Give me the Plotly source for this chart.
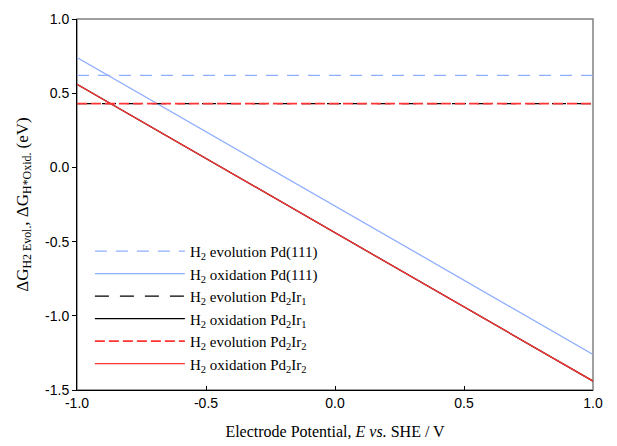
import plotly.graph_objects as go

potential = [-1.0, 1.0]
evol_pd111 = [0.62, 0.62]
oxid_pd111 = [0.74, -1.26]
evol_pd2ir1 = [0.43, 0.43]
oxid_pd2ir1 = [0.56, -1.44]
evol_pd2ir2 = [0.43, 0.43]
oxid_pd2ir2 = [0.56, -1.44]

x_ticks = [-1.0, -0.5, 0.0, 0.5, 1.0]
x_tick_labels = ["-1.0", "-0.5", "0.0", "0.5", "1.0"]
y_ticks = [-1.5, -1.0, -0.5, 0.0, 0.5, 1.0]
y_tick_labels = ["-1.5", "-1.0", "-0.5", "0.0", "0.5", "1.0"]

names = [
    "H<sub>2</sub> evolution Pd(111)",
    "H<sub>2</sub> oxidation Pd(111)",
    "H<sub>2</sub> evolution Pd<sub>2</sub>Ir<sub>1</sub>",
    "H<sub>2</sub> oxidation Pd<sub>2</sub>Ir<sub>1</sub>",
    "H<sub>2</sub> evolution Pd<sub>2</sub>Ir<sub>2</sub>",
    "H<sub>2</sub> oxidation Pd<sub>2</sub>Ir<sub>2</sub>",
]
series = [evol_pd111, oxid_pd111, evol_pd2ir1, oxid_pd2ir1, evol_pd2ir2, oxid_pd2ir2]
colors = ["#8FAEFF", "#8FAEFF", "#000000", "#000000", "#FF3333", "#FF3333"]
dashes = ["12px,9px", "solid", "14px,11px", "solid", "10px,4px", "solid"]
widths = [1.3, 1.3, 1.3, 1.3, 1.6, 1.3]

fig = go.Figure()
for n, s, c, d, w in zip(names, series, colors, dashes, widths):
    fig.add_trace(go.Scatter(x=potential, y=s, mode="lines", name=n,
                             line=dict(color=c, width=w, dash=d)))

fig.add_shape(type="rect", xref="paper", yref="paper", x0=0, x1=1, y0=0, y1=1,
              line=dict(color="#808080", width=1.5), layer="below")

fig.update_layout(
    width=617, height=446,
    margin=dict(l=77, r=24, t=19, b=56),
    paper_bgcolor="white", plot_bgcolor="white",
    showlegend=True,
    legend=dict(x=0.025, y=0.418, xanchor="left", yanchor="top",
                bgcolor="rgba(0,0,0,0)", itemwidth=90, tracegroupgap=0,
                font=dict(family="Liberation Serif, Times New Roman, serif", size=15, color="black")),
    xaxis=dict(range=[-1, 1], tickvals=x_ticks, ticktext=x_tick_labels, automargin=False,
               showgrid=False, zeroline=False, showline=True, linecolor="black", linewidth=1,
               ticks="inside", ticklen=4, tickcolor="black",
               tickfont=dict(family="Liberation Sans, Arial, sans-serif", size=14, color="black"),
               title=dict(text="Electrode Potential, <i>E vs.</i> SHE / V", standoff=16,
                          font=dict(family="Liberation Serif, Times New Roman, serif", size=16, color="black"))),
    yaxis=dict(range=[-1.5, 1.0], tickvals=y_ticks, ticktext=y_tick_labels, automargin=False,
               showgrid=False, zeroline=False, showline=True, linecolor="black", linewidth=1,
               ticks="outside", ticklen=4, tickcolor="black",
               tickfont=dict(family="Liberation Sans, Arial, sans-serif", size=14, color="black"),
               title=dict(text="ΔG<sub>H2 Evol.</sub>, ΔG<sub>H*Oxid.</sub> (eV)", standoff=12,
                          font=dict(family="Liberation Serif, Times New Roman, serif", size=17, color="black"))),
)

fig.write_html("out.html")
